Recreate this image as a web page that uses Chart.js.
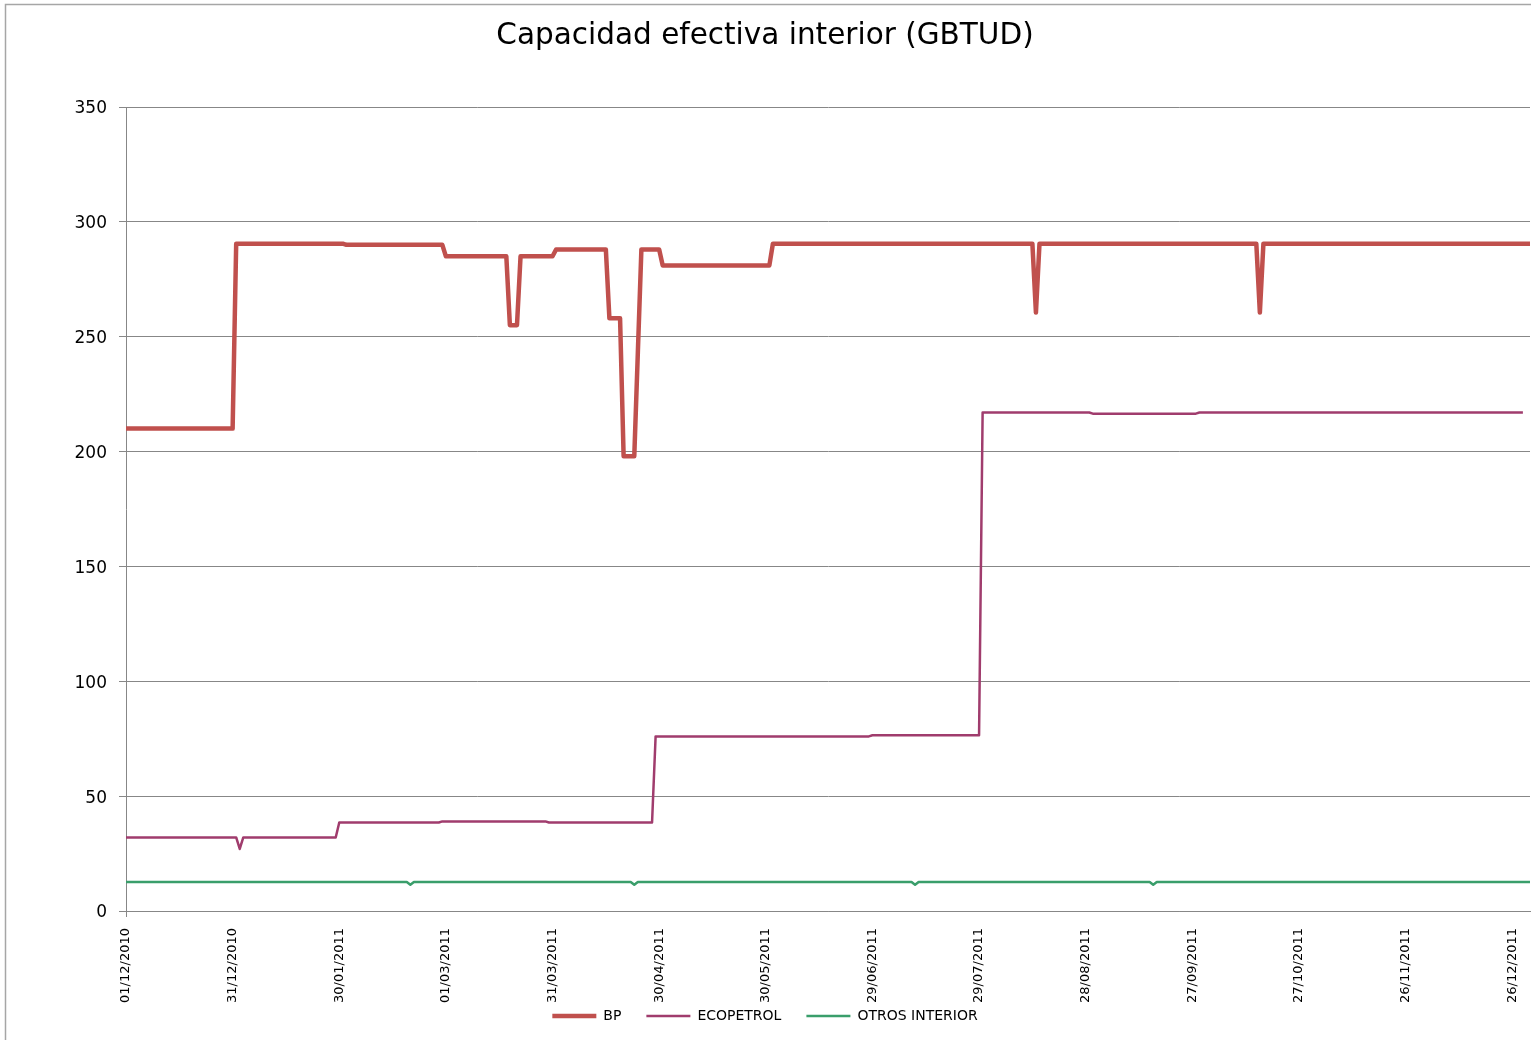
<!DOCTYPE html>
<html>
<head>
<meta charset="utf-8">
<title>Capacidad efectiva interior (GBTUD)</title>
<script src="https://cdn.jsdelivr.net/npm/chart.js@4/dist/chart.umd.min.js"></script>
<style>
  html, body { margin: 0; padding: 0; background: #fff; }
  canvas { display: block; }
</style>
</head>
<body>
<canvas id="capChart" width="1531" height="1040"></canvas>
<script>
// Daily categories from 01/12/2010 to 31/12/2011
const firstDay = Date.UTC(2010, 11, 1);
const dayCount = 396;
const tickEvery = 30;

// Series as [first day, value] steps (value holds until next step)
const bpSteps = [
  ['01/12/2010', 210],
  ['01/01/2011', 290.5],
  ['01/02/2011', 290],
  ['01/03/2011', 285],
  ['19/03/2011', 255],
  ['22/03/2011', 285],
  ['01/04/2011', 288],
  ['16/04/2011', 258],
  ['20/04/2011', 198],
  ['24/04/2011', 243],
  ['25/04/2011', 288],
  ['01/05/2011', 281],
  ['01/06/2011', 290.5],
  ['14/08/2011', 260.5],
  ['15/08/2011', 290.5],
  ['16/10/2011', 260.5],
  ['17/10/2011', 290.5]
];

const ecopetrolSteps = [
  ['01/12/2010', 32],
  ['02/01/2011', 27],
  ['03/01/2011', 32],
  ['30/01/2011', 38.5],
  ['28/02/2011', 39],
  ['30/03/2011', 38.5],
  ['29/04/2011', 76],
  ['29/06/2011', 76.5],
  ['30/07/2011', 217],
  ['30/08/2011', 216.5],
  ['29/09/2011', 217],
  ['30/12/2011', null]
];

const otrosSteps = [
  ['01/12/2010', 12.6],
  ['19/02/2011', 11.4],
  ['20/02/2011', 12.6],
  ['23/04/2011', 11.4],
  ['24/04/2011', 12.6],
  ['11/07/2011', 11.4],
  ['12/07/2011', 12.6],
  ['16/09/2011', 11.4],
  ['17/09/2011', 12.6]
];

const seriesNames = ['BP', 'ECOPETROL', 'OTROS INTERIOR'];
const seriesColors = ['#C0504D', '#A03C6D', '#3A9E6B'];
const seriesWidths = [4.5, 2.5, 2.5];

function pad2(n) { return (n < 10 ? '0' : '') + n; }

const dayLabels = [];
for (let i = 0; i < dayCount; i++) {
  const d = new Date(firstDay + i * 86400000);
  dayLabels.push(pad2(d.getUTCDate()) + '/' + pad2(d.getUTCMonth() + 1) + '/' + d.getUTCFullYear());
}

// Expand step list into one value per day
function expandSteps(steps) {
  const out = new Array(dayCount).fill(null);
  steps.forEach(([day, v], k) => {
    const from = dayLabels.indexOf(day);
    const to = k + 1 < steps.length ? dayLabels.indexOf(steps[k + 1][0]) : dayCount;
    for (let i = from; i < to; i++) out[i] = v;
  });
  return out;
}

const allSteps = [bpSteps, ecopetrolSteps, otrosSteps];

const gridGray = '#878787';

// White page and the chart frame
const framePlugin = {
  id: 'frame',
  beforeDraw(chart) {
    const ctx = chart.ctx;
    ctx.save();
    ctx.fillStyle = '#fff';
    ctx.fillRect(0, 0, chart.width, chart.height);
    ctx.strokeStyle = '#a6a6a6';
    ctx.lineWidth = 1.5;
    ctx.strokeRect(5.5, 4.5, chart.width + 20, chart.height + 20);
    ctx.restore();
  }
};

// x labels run down into the legend band, so don't clip them at the scale box
const labelRoomPlugin = {
  id: 'labelRoom',
  afterLayout(chart) {
    chart.scales.x.bottom = chart.height;
  }
};

const ctx = document.getElementById('capChart').getContext('2d');
new Chart(ctx, {
  type: 'line',
  data: {
    labels: dayLabels,
    datasets: seriesNames.map((name, i) => ({
      label: name,
      data: expandSteps(allSteps[i]),
      borderColor: seriesColors[i],
      backgroundColor: seriesColors[i],
      borderWidth: seriesWidths[i],
      borderJoinStyle: 'round',
      pointRadius: 0,
      pointHoverRadius: 0,
      tension: 0,
      fill: false,
      spanGaps: false
    }))
  },
  options: {
    responsive: false,
    animation: false,
    layout: { padding: { left: 0, right: 1, top: 0, bottom: 7 } },
    plugins: {
      title: {
        display: true,
        text: 'Capacidad efectiva interior (GBTUD)',
        color: '#000',
        font: { family: 'DejaVu Sans', size: 29.5, weight: 'normal' },
        padding: { top: 19, bottom: 52.6 }
      },
      legend: {
        position: 'bottom',
        labels: {
          usePointStyle: true,
          pointStyle: 'line',
          pointStyleWidth: 44,
          padding: 25,
          color: '#000',
          font: { family: 'DejaVu Sans', size: 14 }
        }
      },
      tooltip: { enabled: false }
    },
    scales: {
      x: {
        afterFit: (scale) => {
          scale.height = 73;
          scale.paddingLeft = 0;
          scale.paddingRight = 0;
        },
        grid: {
          drawOnChartArea: false,
          drawTicks: true,
          tickLength: 6,
          color: (c) => (c.index % tickEvery === 0 ? gridGray : 'rgba(0,0,0,0)')
        },
        border: { display: true, color: gridGray, width: 1 },
        ticks: {
          autoSkip: false,
          maxRotation: 90,
          minRotation: 90,
          padding: 11,
          color: '#000',
          font: { family: 'DejaVu Sans', size: 13 },
          callback: function (value, index) {
            return index % tickEvery === 0 ? this.getLabelForValue(value) : null;
          }
        }
      },
      y: {
        min: 0,
        max: 350,
        afterFit: (scale) => { scale.width = 126; },
        grid: { color: gridGray, lineWidth: 1, tickLength: 7 },
        border: { display: true, color: gridGray, width: 1 },
        ticks: {
          stepSize: 50,
          padding: 12,
          labelOffset: 2,
          color: '#000',
          font: { family: 'DejaVu Sans', size: 17 }
        }
      }
    }
  },
  plugins: [framePlugin, labelRoomPlugin]
});
</script>
</body>
</html>
